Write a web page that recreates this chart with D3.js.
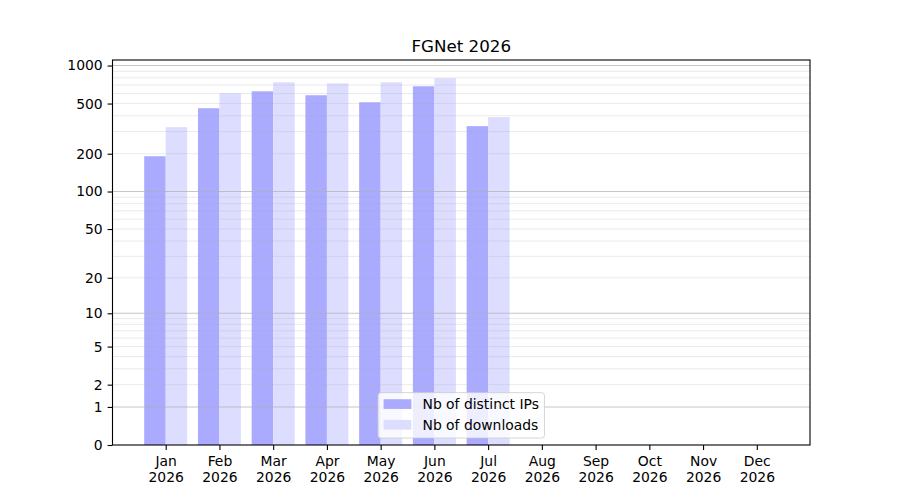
<!DOCTYPE html>
<html>
<head>
<meta charset="utf-8">
<script src="https://cdn.jsdelivr.net/npm/d3@7"></script>
<style>
  body { margin: 0; background: #fff; }
  text { font-family: "DejaVu Sans", sans-serif; fill: #000; }
</style>
</head>
<body>
<div id="chart"></div>
<script>
var months = ["Jan", "Feb", "Mar", "Apr", "May", "Jun", "Jul", "Aug", "Sep", "Oct", "Nov", "Dec"];
var year = "2026";
var distinctIPs = [191, 459, 625, 582, 512, 685, 331, 0, 0, 0, 0, 0];
var downloads   = [325, 603, 737, 723, 737, 792, 390, 0, 0, 0, 0, 0];
var yTicks = [0, 1, 2, 5, 10, 20, 50, 100, 200, 500, 1000];
var majorGrid = [1, 10, 100, 1000];
var minorGrid = [];
[1, 10, 100].forEach(function(d) {
  for (var k = 2; k <= 9; k++) minorGrid.push(d * k);
});
var seriesNames = ["Nb of distinct IPs", "Nb of downloads"];
var seriesColors = ["#aaaaff", "#ddddff"];

var fullWidth = 900;
var fullHeight = 500;
var margin = {top: 60, right: 90, bottom: 55, left: 112.5};
var width = fullWidth - margin.left - margin.right;
var height = fullHeight - margin.top - margin.bottom;
var fs = 13.9;

var svg = d3.select("#chart")
  .append("svg")
  .attr("width", fullWidth)
  .attr("height", fullHeight);

var g = svg.append("g")
  .attr("transform", "translate(" + margin.left + "," + margin.top + ")");

// bars sit at i-0.2 and i+0.2, width 0.4, with a 5% margin like matplotlib
var barW = 0.4;
var span = (months.length - 1 + barW) - (-barW);
var xScale = d3.scaleLinear()
  .domain([-barW - span * 0.05, months.length - 1 + barW + span * 0.05])
  .range([0, width]);

var maxVal = d3.max(downloads.concat(distinctIPs));
var yTop = Math.pow(maxVal + 1, 1.05) - 1;
var yScale = d3.scaleSymlog().constant(1)
  .domain([0, yTop])
  .range([height, 0]);

// bars
g.selectAll(".ip")
  .data(distinctIPs)
  .enter().append("rect")
  .attr("x", function(d, i) { return xScale(i - barW); })
  .attr("width", function(d, i) { return xScale(i) - xScale(i - barW); })
  .attr("y", function(d) { return yScale(d); })
  .attr("height", function(d) { return height - yScale(d); })
  .attr("fill", seriesColors[0]);

g.selectAll(".dl")
  .data(downloads)
  .enter().append("rect")
  .attr("x", function(d, i) { return xScale(i); })
  .attr("width", function(d, i) { return xScale(i + barW) - xScale(i); })
  .attr("y", function(d) { return yScale(d); })
  .attr("height", function(d) { return height - yScale(d); })
  .attr("fill", seriesColors[1]);

// grid on top of the bars
g.selectAll(".minor")
  .data(minorGrid)
  .enter().append("line")
  .attr("x1", 0).attr("x2", width)
  .attr("y1", function(d) { return yScale(d); })
  .attr("y2", function(d) { return yScale(d); })
  .attr("stroke", "#b0b0b0")
  .attr("stroke-opacity", 0.25)
  .attr("stroke-width", 1);

g.selectAll(".major")
  .data(majorGrid)
  .enter().append("line")
  .attr("x1", 0).attr("x2", width)
  .attr("y1", function(d) { return yScale(d); })
  .attr("y2", function(d) { return yScale(d); })
  .attr("stroke", "#b0b0b0")
  .attr("stroke-opacity", 0.72)
  .attr("stroke-width", 1.1);

// axes
var yAxis = d3.axisLeft(yScale)
  .tickValues(yTicks)
  .tickFormat(d3.format("d"))
  .tickSize(4.9)
  .tickPadding(4.9);

var yG = g.append("g").call(yAxis);
yG.select(".domain").remove();
yG.selectAll("text").attr("font-size", fs).style("font-family", "DejaVu Sans");
yG.selectAll("line").attr("stroke-width", 1.1);

var xAxis = d3.axisBottom(xScale)
  .tickValues(d3.range(months.length))
  .tickFormat(function(i) { return months[i]; })
  .tickSize(4.9)
  .tickPadding(4.9);

var xG = g.append("g")
  .attr("transform", "translate(0," + height + ")")
  .call(xAxis);
xG.select(".domain").remove();
xG.selectAll("line").attr("stroke-width", 1.1);
xG.selectAll("text").remove();
xG.selectAll(".tick").each(function(i) {
  var t = d3.select(this).append("text")
    .attr("text-anchor", "middle")
    .attr("font-size", fs);
  t.append("tspan").attr("x", 0).attr("y", 20.6).text(months[i]);
  t.append("tspan").attr("x", 0).attr("y", 36.6).text(year);
});

// frame
g.append("rect")
  .attr("width", width)
  .attr("height", height)
  .attr("fill", "none")
  .attr("stroke", "#000")
  .attr("stroke-width", 1.1);

// title
svg.append("text")
  .attr("x", margin.left + width / 2)
  .attr("y", margin.top - 8.3)
  .attr("text-anchor", "middle")
  .attr("font-size", 16.7)
  .text("FGNet " + year);

// legend, lower center
var pad = 0.4 * fs, handleLen = 2 * fs, handlePad = 0.8 * fs, rowH = 20.7;
var leg = g.append("g");
var box = leg.append("rect")
  .attr("rx", 2.8).attr("ry", 2.8)
  .attr("fill", "#fff")
  .attr("fill-opacity", 0.8)
  .attr("stroke", "#cccccc")
  .attr("stroke-opacity", 0.8)
  .attr("stroke-width", 1);
var labels = [];
seriesNames.forEach(function(name, k) {
  leg.append("rect")
    .attr("x", pad)
    .attr("y", pad + 1 + k * rowH)
    .attr("width", handleLen)
    .attr("height", 0.7 * fs)
    .attr("fill", seriesColors[k]);
  labels.push(leg.append("text")
    .attr("x", pad + handleLen + handlePad)
    .attr("y", pad + 11 + k * rowH)
    .attr("font-size", fs)
    .text(name));
});
var textW = d3.max(labels, function(t) { return t.node().getComputedTextLength(); });
var boxW = pad * 2 + handleLen + handlePad + textW;
var boxH = 45.4;
box.attr("width", boxW).attr("height", boxH);
leg.attr("transform", "translate(" + (width / 2 - boxW / 2) + "," + (height - 0.5 * fs - boxH) + ")");
</script>
</body>
</html>
